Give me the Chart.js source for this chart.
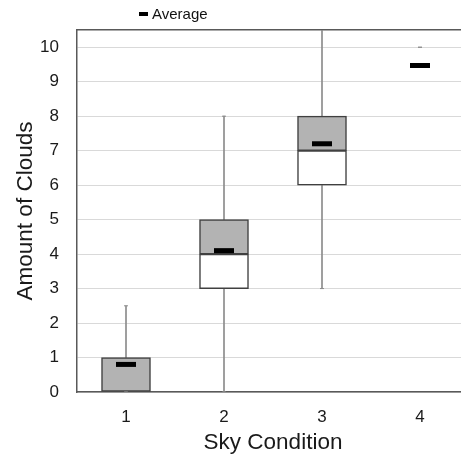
<!DOCTYPE html>
<html>
<head>
<meta charset="utf-8">
<script src="https://cdn.jsdelivr.net/npm/chart.js@4"></script>
<style>
  html, body { margin: 0; padding: 0; overflow: hidden; background: #fff; }
  #wrap { position: relative; width: 484px; height: 457px; }
  #legend {
    position: absolute; left: 139px; top: 6px;
    font: 15px "Liberation Sans", Arial, sans-serif; line-height: 15px; color: #111;
    display: flex; align-items: center; white-space: nowrap;
  }
  #legend .dash { display: inline-block; width: 9px; height: 4px; background: #000; margin-right: 4px; }
</style>
</head>
<body>
<div id="wrap">
  <canvas id="boxChart" width="484" height="457"></canvas>
  <div id="legend"><span class="dash"></span>Average</div>
</div>
<script>
// Sky condition categories and box plot summaries
const categories = [1, 2, 3, 4];
const whiskerMin = [0, 0, 3, 10];
const quartile1 = [0, 3, 6, 10];
const medians = [0, 4, 7, 10];
const quartile3 = [1, 5, 8, 10];
const whiskerMax = [2.5, 8, 11, 10];
const averages = [0.8, 4.1, 7.2, 9.47];
const yTicks = [0, 1, 2, 3, 4, 5, 6, 7, 8, 9, 10];

const FONT = '"Liberation Sans", Arial, sans-serif';

// floating bar helper, empty segments are skipped
function segment(lo, hi) {
  return categories.map((c, i) => ({ x: c, y: lo[i] === hi[i] ? null : [lo[i], hi[i]] }));
}

const capPoints = [];
categories.forEach((c, i) => {
  capPoints.push({ x: c, y: whiskerMax[i] });
  capPoints.push({ x: c, y: whiskerMin[i] });
});

const ctx = document.getElementById("boxChart").getContext("2d");

new Chart(ctx, {
  type: "bar",
  data: {
    datasets: [
      {
        label: "Average",
        type: "line",
        data: categories.map((c, i) => ({ x: c, y: averages[i] })),
        showLine: false,
        pointStyle: "line",
        pointRadius: 10,
        borderWidth: 5,
        borderColor: "#000",
        order: 1,
      },
      {
        label: "caps",
        type: "line",
        data: capPoints,
        showLine: false,
        pointStyle: "line",
        pointRadius: 2,
        borderWidth: 1,
        borderColor: "#8c8c8c",
        order: 2,
      },
      {
        label: "upper",
        data: segment(medians, quartile3),
        backgroundColor: "#b3b3b3",
        borderColor: "#404040",
        borderWidth: 1.5,
        borderSkipped: false,
        barThickness: 49,
        grouped: false,
        order: 3,
      },
      {
        label: "lower",
        data: segment(quartile1, medians),
        backgroundColor: "#ffffff",
        borderColor: "#404040",
        borderWidth: 1.5,
        borderSkipped: false,
        barThickness: 49,
        grouped: false,
        order: 4,
      },
      {
        label: "whisker",
        data: segment(whiskerMin, whiskerMax),
        backgroundColor: "#8c8c8c",
        barThickness: 1,
        grouped: false,
        order: 5,
      },
    ],
  },
  options: {
    responsive: false,
    animation: false,
    layout: { padding: { top: 30, right: 2, bottom: 0, left: 0 } },
    plugins: {
      legend: { display: false },
      tooltip: { enabled: false },
    },
    scales: {
      x: {
        type: "linear",
        position: "bottom",
        offset: false,
        min: 0.5,
        max: 4.5,
        grid: { display: false, drawTicks: false },
        border: { display: true, color: "#595959", width: 1.5 },
        afterBuildTicks: (scale) => {
          scale.ticks = categories.map((c) => ({ value: c }));
        },
        ticks: {
          padding: 15,
          color: "#1a1a1a",
          font: { family: FONT, size: 17 },
          callback: (v) => String(v),
        },
        title: {
          display: true,
          text: "Sky Condition",
          color: "#1a1a1a",
          font: { family: FONT, size: 22.5 },
          padding: { top: 0, bottom: 1 },
        },
        afterFit: (scale) => {
          scale.height = 65;
        },
      },
      xTop: {
        type: "linear",
        position: "top",
        offset: false,
        min: 0.5,
        max: 4.5,
        grid: { display: false, drawTicks: false },
        ticks: { display: false },
        border: { display: true, color: "#595959", width: 1.5 },
        afterFit: (scale) => {
          scale.height = 0;
        },
      },
      y: {
        position: "left",
        min: 0,
        max: 10.5,
        afterBuildTicks: (scale) => {
          scale.ticks = yTicks.map((v) => ({ value: v }));
        },
        grid: { color: "#d9d9d9", drawTicks: false },
        border: { display: true, color: "#595959", width: 1.5 },
        ticks: {
          padding: 18,
          color: "#1a1a1a",
          font: { family: FONT, size: 17 },
        },
        title: {
          display: true,
          text: "Amount of Clouds",
          color: "#1a1a1a",
          font: { family: FONT, size: 22.5 },
          padding: { top: 12, bottom: 0 },
        },
        afterFit: (scale) => {
          scale.width = 77;
        },
      },
    },
  },
});
</script>
</body>
</html>
